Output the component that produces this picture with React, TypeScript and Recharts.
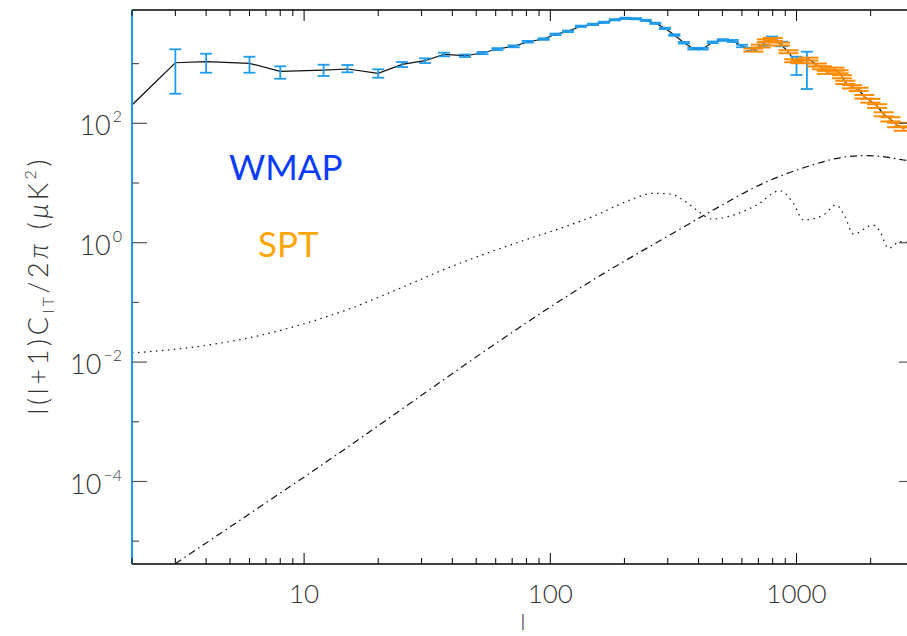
import React from "react";
import { ComposedChart, Line, Scatter, ErrorBar, XAxis, YAxis } from "recharts";

// WMAP band powers: multipole, centre, lower and upper end of the error bar (uK^2)
const wmapEll = [3, 4, 6, 8, 12, 15, 20, 25, 31, 37, 45, 53, 61, 71, 81, 94, 105, 118, 133, 149, 165, 183, 202, 223, 244, 267, 292, 319, 349, 381, 416, 457, 502, 551, 601, 658, 734, 794, 873, 1000, 1102];
const wmapCl = [1035, 1076, 1012, 743, 781, 812, 688, 973, 1119, 1432, 1356, 1506, 1758, 1950, 2328, 2583, 3097, 3475, 4218, 4550, 4918, 5435, 5741, 5649, 5310, 4731, 3899, 3013, 2240, 1778, 1778, 2275, 2484, 2392, 1972, 1737, 2130, 2655, 2130, 1119, 1194];
const wmapLo = [313, 704, 704, 558, 620, 715, 581, 877, 1023, 1325, 1290, 1440, 1690, 1880, 2250, 2500, 3000, 3370, 4100, 4430, 4790, 5300, 5600, 5510, 5180, 4610, 3790, 2920, 2170, 1720, 1720, 2200, 2400, 2300, 1880, 1640, 1990, 2480, 1950, 644, 376];
const wmapHi = [1737, 1465, 1305, 901, 959, 948, 803, 1064, 1227, 1523, 1420, 1570, 1820, 2020, 2400, 2660, 3190, 3580, 4330, 4670, 5040, 5570, 5880, 5790, 5440, 4850, 4000, 3100, 2310, 1840, 1840, 2350, 2570, 2490, 2070, 1840, 2270, 2840, 2330, 1305, 1583];

// SPT band powers and symmetric errors
const sptEll = [668, 716, 757, 801, 857, 927, 978, 1035, 1118, 1210, 1268, 1328, 1426, 1482, 1529, 1578, 1680, 1787, 1885, 1994, 2124, 2260, 2406, 2561, 2725];
const sptCl = [1690, 1972, 2420, 2553, 2130, 1583, 1119, 1076, 1194, 948, 854, 715, 812, 731, 604, 486, 410, 371, 279, 239, 195, 142, 117, 94, 82];
const sptErr = [100, 110, 130, 140, 120, 90, 65, 60, 65, 55, 50, 42, 45, 42, 36, 30, 26, 24, 19, 17, 14, 11, 9.5, 8, 7];

// start of the solid curve below the first WMAP bin
const lineStartEll = 2;
const lineStartCl = 203;

// dotted curve
const dotEll = [2, 3.8, 6, 9.6, 15.4, 24.5, 38, 57, 83, 113, 154, 211, 262, 306, 347, 393, 453, 537, 689, 857, 971, 1066, 1286, 1447, 1573, 1702, 2051, 2183, 2362, 2630, 3000];
const dotCl = [0.0142, 0.0185, 0.0256, 0.0418, 0.079, 0.172, 0.372, 0.7, 1.19, 1.81, 2.91, 5.19, 6.72, 6.54, 5.19, 3.53, 2.49, 2.8, 4.28, 7.43, 4.57, 2.4, 2.91, 4.28, 2.72, 1.4, 1.98, 1.53, 0.806, 1.04, 1.02];

// dash-dot curve
const ddEll = [3, 9.6, 178, 306, 459, 733, 1099, 1598, 1867, 2252, 2716, 3000];
const ddCl = [4.2e-6, 1.06e-4, 0.37, 1.35, 3.53, 9.9, 18.7, 27.6, 28.7, 27.6, 24.3, 23];

const xTicks = [2, 3, 4, 5, 6, 7, 8, 9, 10, 20, 30, 40, 50, 60, 70, 80, 90, 100, 200, 300, 400, 500, 600, 700, 800, 900, 1000, 2000, 3000];
const xLabelled = [10, 100, 1000];
const yTicks = [1e-5, 1e-4, 1e-3, 1e-2, 1e-1, 1, 10, 100, 1000];

const FONT = "Lato, 'Open Sans', sans-serif";
const BLUE = "#1e9beb";
const ORANGE = "#ff8c00";
const TEXT = "#333";

const wmapRows = wmapEll.map((l, i) => ({ l, cl: wmapCl[i], err: [wmapCl[i] - wmapLo[i], wmapHi[i] - wmapCl[i]] }));
const sptRows = sptEll.map((l, i) => ({ l, cl: sptCl[i], err: sptErr[i] }));
const lineRows = [
  { l: lineStartEll, cl: lineStartCl },
  ...wmapRows.filter((r) => r.l < 660).map((r) => ({ l: r.l, cl: r.cl })),
  ...sptRows.map((r) => ({ l: r.l, cl: r.cl })),
];
const dotRows = dotEll.map((l, i) => ({ l, cl: dotCl[i] }));
const ddRows = ddEll.map((l, i) => ({ l, cl: ddCl[i] }));

const noShape = () => <g />;

const expLabel = (e: number) => (e < 0 ? "\u2212" + -e : String(e));

const BottomTick = (props: any) => {
  const { x, y, payload } = props;
  const major = xLabelled.includes(payload.value);
  return (
    <g>
      <line x1={x} y1={y} x2={x} y2={y - (major ? 11 : 6)} stroke="#000" strokeWidth={1} />
      {major && (
        <text x={x} y={y + 39} textAnchor="middle" style={{ fill: TEXT }} fontSize={26} fontFamily={FONT} fontWeight={300}>
          {payload.value}
        </text>
      )}
    </g>
  );
};

const TopTick = (props: any) => {
  const { x, y, payload } = props;
  const major = xLabelled.includes(payload.value);
  return <line x1={x} y1={y} x2={x} y2={y + (major ? 11 : 6)} stroke="#000" strokeWidth={1} />;
};

const LeftTick = (props: any) => {
  const { x, y, payload } = props;
  const e = Math.round(Math.log10(payload.value));
  const major = e % 2 === 0;
  return (
    <g>
      <line x1={x} y1={y} x2={x + (major ? 15 : 7)} y2={y} stroke="#555" strokeWidth={1.2} />
      {major && (
        <text x={x - 10} y={y + 12} textAnchor="end" style={{ fill: TEXT }} fontSize={27} fontFamily={FONT} fontWeight={300}>
          10
          <tspan dx={2} dy={-13} fontSize={16}>
            {expLabel(e)}
          </tspan>
        </text>
      )}
    </g>
  );
};

const RightTick = (props: any) => {
  const { x, y, payload } = props;
  const e = Math.round(Math.log10(payload.value));
  const major = e % 2 === 0;
  return <line x1={x} y1={y} x2={x - (major ? 15 : 7)} y2={y} stroke="#555" strokeWidth={1.2} />;
};

const Annotations = () => (
  <g fontFamily={FONT}>
    <text
      x={48}
      y={287}
      transform="rotate(-90, 48, 287)"
      textAnchor="middle"
      style={{ fill: TEXT }}
      fontSize={27}
      fontWeight={300}
      textLength={255}
      lengthAdjust="spacing"
    >
      l(l+1)C
      <tspan fontSize={16} dy={6}>lT</tspan>
      <tspan dy={-6}>/2</tspan>
      <tspan fontStyle="italic">{"\u03c0"}</tspan>
      <tspan>{"  ("}</tspan>
      <tspan fontStyle="italic">{"\u03bc"}</tspan>
      <tspan>K</tspan>
      <tspan fontSize={16} dy={-12}>2</tspan>
      <tspan dy={12}>)</tspan>
    </text>
    <text x={523} y={630} textAnchor="middle" style={{ fill: TEXT }} fontSize={22} fontWeight={300}>
      l
    </text>
    <text x={229} y={180} style={{ fill: "#0a3cff" }} fontSize={35}>
      WMAP
    </text>
    <text x={258} y={257} style={{ fill: "#ffa500" }} fontSize={35}>
      SPT
    </text>
  </g>
);

export default function App() {
  return (
    <div style={{ position: "absolute", left: 0, top: 0, width: 907, height: 636, overflow: "hidden", background: "#fff" }}>
      <ComposedChart width={930} height={636} margin={{ top: 0, right: 15, bottom: 0, left: 0 }}>
        <XAxis
          xAxisId={0}
          dataKey="l"
          type="number"
          scale="log"
          domain={[2, 3000]}
          allowDataOverflow
          ticks={xTicks}
          interval={0}
          height={72}
          tickSize={0}
          tickMargin={0}
          tick={<BottomTick />}
          axisLine={{ stroke: "#000", strokeWidth: 1.5 }}
          tickLine={false}
          label={() => <Annotations />}
        />
        <XAxis
          xAxisId="top"
          orientation="top"
          dataKey="l"
          type="number"
          scale="log"
          domain={[2, 3000]}
          allowDataOverflow
          ticks={xTicks}
          interval={0}
          height={10}
          tickSize={0}
          tickMargin={0}
          tick={<TopTick />}
          axisLine={{ stroke: "#000", strokeWidth: 1.5 }}
          tickLine={false}
        />
        <YAxis
          yAxisId={0}
          type="number"
          scale="log"
          domain={[4.15e-6, 7910]}
          allowDataOverflow
          ticks={yTicks}
          interval={0}
          width={132}
          tickSize={0}
          tickMargin={0}
          tick={<LeftTick />}
          axisLine={{ stroke: BLUE, strokeWidth: 2 }}
          tickLine={false}
        />
        <YAxis
          yAxisId="right"
          orientation="right"
          type="number"
          scale="log"
          domain={[4.15e-6, 7910]}
          allowDataOverflow
          ticks={yTicks}
          interval={0}
          width={1}
          tickSize={0}
          tickMargin={0}
          tick={<RightTick />}
          axisLine={false}
          tickLine={false}
        />
        <Line data={dotRows} dataKey="cl" type="monotone" stroke="#111" strokeWidth={1.2} strokeDasharray="1.5 4.5" dot={false} isAnimationActive={false} />
        <Line data={ddRows} dataKey="cl" type="monotone" stroke="#111" strokeWidth={1.2} strokeDasharray="7 4 1.5 4" dot={false} isAnimationActive={false} />
        <Line data={lineRows} dataKey="cl" stroke="#111" strokeWidth={1.2} dot={false} isAnimationActive={false} />
        <Scatter data={wmapRows} dataKey="cl" shape={noShape} isAnimationActive={false}>
          <ErrorBar dataKey="err" direction="y" width={6} stroke={BLUE} strokeWidth={1.8} />
        </Scatter>
        <Scatter data={sptRows} dataKey="cl" shape={noShape} isAnimationActive={false}>
          <ErrorBar dataKey="err" direction="y" width={10} stroke={ORANGE} strokeWidth={2} />
        </Scatter>
      </ComposedChart>
    </div>
  );
}
